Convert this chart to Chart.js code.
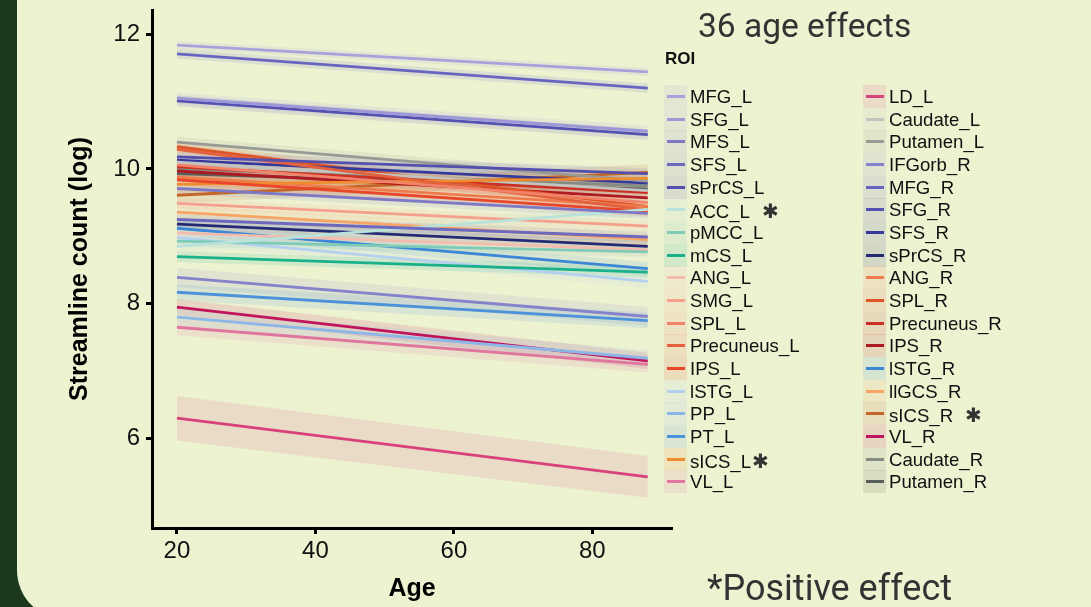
<!DOCTYPE html>
<html>
<head>
<meta charset="utf-8">
<script src="https://cdn.jsdelivr.net/npm/chart.js@4.4.1/dist/chart.umd.min.js"></script>
<style>
  html, body { margin: 0; padding: 0; width: 1091px; height: 607px; overflow: hidden; background: #1b3a1d; }
  #panel { position: absolute; left: 17px; top: 0; width: 1100px; height: 620px; background: #edf2d1; border-bottom-left-radius: 50px; }
  #plot { position: absolute; left: 0; top: 0; }
  #title { position: absolute; left: 698px; top: 6px; font: 33.5px Roboto, sans-serif; color: #333; white-space: nowrap; }
  #note { position: absolute; left: 707px; top: 567px; font: 36px Roboto, sans-serif; color: #333; white-space: nowrap; }
  #roiTitle { position: absolute; left: 665px; top: 49px; font: bold 17px "Liberation Sans", Arial, sans-serif; color: #111; }
  .row { position: absolute; height: 23px; font: 18.6px "Liberation Sans", Arial, sans-serif; color: #111; white-space: nowrap; }
  .key { position: absolute; left: 0; top: 0; width: 23px; height: 23px; }
  .key i { position: absolute; left: 3px; top: 10px; width: 18px; height: 3px; }
  .lab { position: absolute; left: 26px; top: 1px; }
  .star { font-family: "DejaVu Sans", sans-serif; font-size: 20px; color: #333; }
</style>
</head>
<body>
<div id="panel"></div>
<canvas id="plot" width="1091" height="607"></canvas>
<div id="title">36 age effects</div>
<div id="roiTitle">ROI</div>
<div id="legend"></div>
<div id="note">*Positive effect</div>
<script>
// ROI names, colours and fitted values (log streamline count) at age 20 and age 88
const rois = ["MFG_L", "SFG_L", "MFS_L", "SFS_L", "sPrCS_L", "ACC_L", "pMCC_L", "mCS_L", "ANG_L",
    "SMG_L", "SPL_L", "Precuneus_L", "IPS_L", "lSTG_L", "PP_L", "PT_L", "sICS_L", "VL_L",
    "LD_L", "Caudate_L", "Putamen_L", "IFGorb_R", "MFG_R", "SFG_R", "SFS_R", "sPrCS_R", "ANG_R",
    "SPL_R", "Precuneus_R", "IPS_R", "lSTG_R", "llGCS_R", "sICS_R", "VL_R", "Caudate_R", "Putamen_R"];
const roiColors = ["#a6a2dc", "#9c97d6", "#7e79c4", "#6c69be", "#524fae", "#b8e2da", "#7ecbb8", "#19b08a", "#f4bcae",
    "#f4a08c", "#f2836a", "#e4613e", "#e8472a", "#b4d0f0", "#8cb6e6", "#4c92da", "#f08c30", "#e0759e",
    "#d8427a", "#c2c4c0", "#979a95", "#8682cc", "#6864c0", "#5451b2", "#36389a", "#242b74", "#ee7c4c",
    "#de5628", "#cc3024", "#ae1a22", "#3c88d6", "#f8a466", "#c46628", "#c0145c", "#858c84", "#585e58"];
const fitAt20 = [11.84, 11.05, 9.71, 9.25, 10.18, 8.85, 8.93, 8.70, 9.05,
    9.49, 10.06, 10.29, 9.84, 8.98, 7.80, 8.17, 9.77, 7.65,
    6.30, 10.10, 10.40, 8.39, 11.71, 11.01, 10.13, 9.18, 9.88,
    10.33, 10.03, 9.97, 9.12, 9.36, 9.61, 7.95, 10.00, 9.93];
const fitAt88 = [11.44, 10.56, 9.34, 8.99, 9.93, 9.40, 8.77, 8.47, 8.80,
    9.15, 9.50, 9.39, 9.37, 8.33, 7.19, 7.75, 9.86, 7.10,
    5.43, 9.68, 9.82, 7.81, 11.20, 10.51, 9.79, 8.85, 9.44,
    9.44, 9.65, 9.57, 8.52, 8.95, 9.95, 7.15, 9.75, 9.70];
// half width of the confidence ribbon at age 20 and age 88
const bandAt20 = [0.06, 0.08, 0.08, 0.08, 0.08, 0.10, 0.08, 0.08, 0.10,
    0.08, 0.08, 0.08, 0.08, 0.10, 0.12, 0.12, 0.12, 0.12,
    0.33, 0.10, 0.08, 0.14, 0.07, 0.08, 0.08, 0.08, 0.08,
    0.08, 0.08, 0.08, 0.10, 0.10, 0.12, 0.12, 0.10, 0.08];
const bandAt88 = [0.06, 0.08, 0.08, 0.08, 0.08, 0.10, 0.08, 0.08, 0.10,
    0.08, 0.08, 0.08, 0.08, 0.10, 0.12, 0.12, 0.12, 0.12,
    0.31, 0.10, 0.08, 0.14, 0.07, 0.08, 0.08, 0.08, 0.08,
    0.08, 0.08, 0.08, 0.10, 0.10, 0.12, 0.12, 0.10, 0.08];
const ageRange = [20, 88];
const xTicks = [20, 40, 60, 80];
const yTicks = [6, 8, 10, 12];
const positiveRois = ["ACC_L", "sICS_L", "sICS_R"];

function withAlpha(hex, a) {
    const n = parseInt(hex.slice(1), 16);
    return `rgba(${n >> 16}, ${(n >> 8) & 255}, ${n & 255}, ${a})`;
}

// build datasets: lower ribbon edge, upper ribbon edge (filled to previous), fitted line
const datasets = [];
rois.forEach((roi, i) => {
    const col = roiColors[i];
    datasets.push({
        data: [{x: ageRange[0], y: fitAt20[i] - bandAt20[i]}, {x: ageRange[1], y: fitAt88[i] - bandAt88[i]}],
        borderWidth: 0, pointRadius: 0, fill: false, order: 2
    });
    datasets.push({
        data: [{x: ageRange[0], y: fitAt20[i] + bandAt20[i]}, {x: ageRange[1], y: fitAt88[i] + bandAt88[i]}],
        borderWidth: 0, pointRadius: 0, fill: '-1', backgroundColor: withAlpha(col, 0.13), order: 2
    });
    datasets.push({
        label: roi,
        data: [{x: ageRange[0], y: fitAt20[i]}, {x: ageRange[1], y: fitAt88[i]}],
        borderColor: col, borderWidth: 2.8, pointRadius: 0, fill: false, order: 1
    });
});

const axisGrid = {
    display: true, drawOnChartArea: false, drawTicks: true,
    tickLength: 6, tickWidth: 3, tickColor: '#000'
};

new Chart(document.getElementById('plot').getContext('2d'), {
    type: 'line',
    data: { datasets: datasets },
    options: {
        responsive: false,
        animation: false,
        devicePixelRatio: 1,
        layout: { padding: { left: 0, top: 10, right: 419, bottom: 0 } },
        plugins: { legend: { display: false }, tooltip: { enabled: false } },
        scales: {
            x: {
                type: 'linear', min: 16.4, max: 91.5,
                afterBuildTicks: s => { s.ticks = xTicks.map(v => ({ value: v })); },
                afterFit: s => { s.height = 79; s.paddingLeft = 0; s.paddingRight = 0; },
                grid: axisGrid,
                border: { display: true, width: 3, color: '#000' },
                ticks: { font: { size: 24, family: 'Liberation Sans' }, color: '#111', padding: 3, maxRotation: 0 },
                title: { display: true, text: 'Age', color: '#000',
                    font: { size: 25, weight: 'bold', family: 'Liberation Sans' }, padding: { top: 0, bottom: 3 } }
            },
            y: {
                type: 'linear', min: 4.67, max: 12.36,
                afterBuildTicks: s => { s.ticks = yTicks.map(v => ({ value: v })); },
                afterFit: s => { s.width = 152; s.paddingTop = 0; s.paddingBottom = 0; },
                grid: axisGrid,
                border: { display: true, width: 3, color: '#000' },
                ticks: { font: { size: 24, family: 'Liberation Sans' }, color: '#111', padding: 6 },
                title: { display: true, text: 'Streamline count (log)', color: '#000',
                    font: { size: 25, weight: 'bold', family: 'Liberation Sans' }, padding: { top: 65, bottom: 0 } }
            }
        }
    }
});

// two column legend built from the same arrays
const legend = document.getElementById('legend');
rois.forEach((roi, i) => {
    const col = Math.floor(i / 18), row = i % 18;
    const el = document.createElement('div');
    el.className = 'row';
    el.style.left = (col === 0 ? 664 : 863) + 'px';
    el.style.top = (85 + row * 22.66) + 'px';
    const key = document.createElement('div');
    key.className = 'key';
    key.style.background = withAlpha(roiColors[i], 0.13);
    const swatch = document.createElement('i');
    swatch.style.background = roiColors[i];
    key.appendChild(swatch);
    const lab = document.createElement('span');
    lab.className = 'lab';
    lab.textContent = roi;
    if (positiveRois.includes(roi)) {
        const star = document.createElement('span');
        star.className = 'star';
        star.textContent = '\u2731';
        star.style.marginLeft = roi === 'sICS_L' ? '1px' : '12px';
        lab.appendChild(star);
    }
    el.appendChild(key);
    el.appendChild(lab);
    legend.appendChild(el);
});
</script>
</body>
</html>
